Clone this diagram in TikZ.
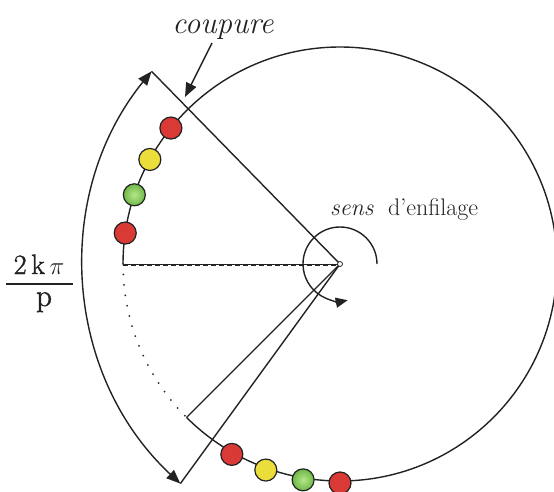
\documentclass[tikz,border=0pt]{standalone}
\usepackage{fontspec}
\newfontfamily\fracfam{Latin Modern Roman}[FakeBold=1.5]
\usetikzlibrary{arrows.meta,calc}
\definecolor{beadred}{HTML}{D93A36}
\definecolor{beadyellow}{HTML}{EBDD3A}
\definecolor{beadgreenin}{HTML}{B8E68A}
\definecolor{beadgreenout}{HTML}{6CB845}
\definecolor{ink}{HTML}{222222}
\begin{document}
\begin{tikzpicture}[x=1pt,y=1pt,
  lw/.style={line width=1.4pt, draw=ink},
  bead/.style={circle, draw=ink, line width=1.2pt, minimum size=22pt, inner sep=0pt},
  redb/.style={bead, fill=beadred},
  yelb/.style={bead, fill=beadyellow},
  grnb/.style={bead, inner color=beadgreenin, outer color=beadgreenout},
  bigtip/.style={-{Triangle[length=14pt,width=11pt]}},
  dotarc/.style={line width=2pt, draw=ink, line cap=round, dash pattern=on 0pt off 10.5pt},
  fracfont/.style={font=\fontsize{28}{32}\selectfont\fracfam, text=ink, inner sep=0pt}
]
\useasboundingbox (0,0) rectangle (554,491);
\def\R{217}
\coordinate (C) at (340,227);
\coordinate (O2) at (387,229);
\coordinate (H) at ($(C)+(180:\R)$);
\coordinate (L) at ($(C)+(225:\R)$);
\coordinate (T) at ($(O2)+(141:303)$);
\coordinate (B) at ($(O2)+(227:303)$);
\coordinate (S) at ($(C)+(0:37)$);
\coordinate (cs) at (212,448);
\coordinate (ce) at (185,394);
% main circle (solid) and dotted part
\draw[lw] (H) arc[start angle=180, end angle=-135, radius=\R];
\draw[dotarc] (H) arc[start angle=180, end angle=225, radius=\R];
% radii
\draw[line width=1pt, draw=ink] (H) -- (C);
\draw[line width=0.6pt, draw=ink, dash pattern=on 5pt off 3pt] ([yshift=-1.3pt]H) -- ([yshift=-1.3pt]C);
\draw[lw] (C) -- (T);
\draw[lw] (C) -- (B);
\draw[lw] (C) -- (L);
% outer double arrow arc
\draw[lw, {Triangle[length=14pt,width=11pt]}-{Triangle[length=14pt,width=11pt]}] (B) arc[start angle=227, end angle=141, radius=303];
% sens d'enfilage arc
\draw[lw, -{Triangle[length=12pt,width=10pt]}] (S) arc[start angle=0, end angle=282, radius=37];
\node[circle, draw=ink, fill=white, inner sep=0pt, minimum size=5pt, line width=0.8pt] (c0) at (C) {};
% beads
\node[redb] (b1) at ($(C)+(141.2:\R)$) {};
\node[yelb] (b2) at ($(C)+(151.2:\R)$) {};
\node[grnb] (b3) at ($(C)+(161.4:\R)$) {};
\node[redb] (b4) at ($(C)+(171.8:\R)$) {};
\node[redb] (b5) at ($(C)+(240.4:219)$) {};
\node[yelb] (b6) at ($(C)+(250.2:219)$) {};
\node[grnb] (b7) at ($(C)+(260.3:219)$) {};
\node[redb] (b8) at ($(C)+(270:219)$) {};
% coupure
\node[anchor=base, font=\fontsize{31}{36}\selectfont\itshape, text=ink] (cp) at (223,457) {coupure};
\draw[lw, bigtip] (cs) -- (ce);
% sens d'enfilage
\node[anchor=base west, font=\fontsize{24}{28}\selectfont, text=ink, inner sep=0pt] (se) at (330,276) {\textit{sens}\ \ d'enfilage};
% fraction
\node[fracfont, anchor=base] (num) at (39,217) {2\,k\,$\pi$};
\node[fracfont, font=\fontsize{31}{34}\selectfont\fracfam, anchor=base] (den) at (44,185) {p};
\coordinate (fl) at (6,207);
\coordinate (fr) at (73,207);
\draw[line width=2.6pt, draw=ink] (fl) -- (fr);
\end{tikzpicture}
\end{document}
